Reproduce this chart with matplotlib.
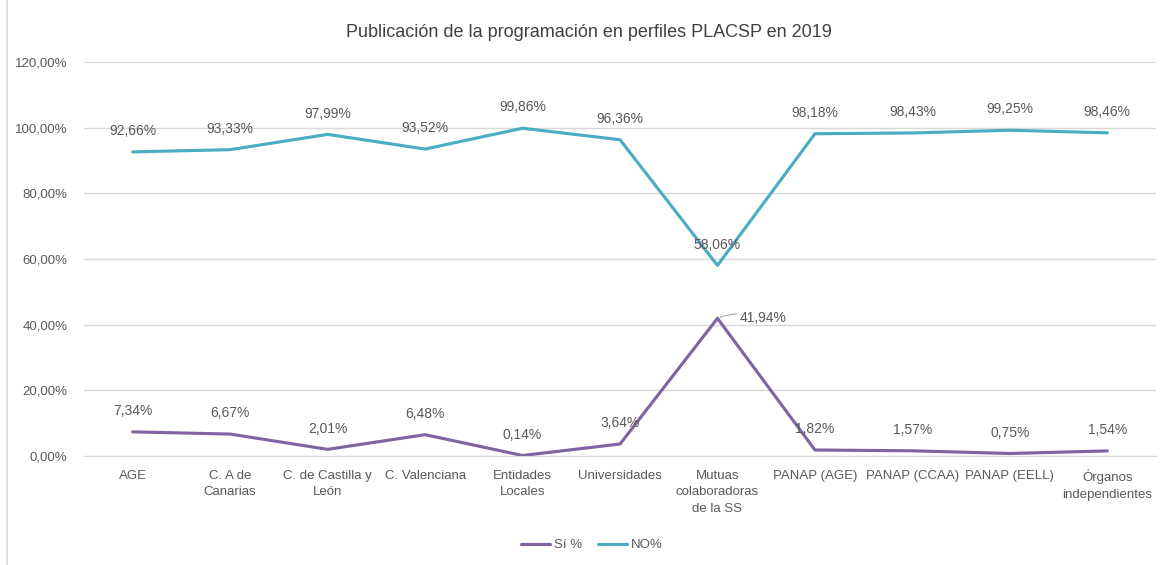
import matplotlib.pyplot as plt
from matplotlib.patches import Rectangle

categorias = ['AGE', 'C. A de\nCanarias', 'C. de Castilla y\nLeón', 'C. Valenciana',
              'Entidades\nLocales', 'Universidades', 'Mutuas\ncolaboradoras\nde la SS',
              'PANAP (AGE)', 'PANAP (CCAA)', 'PANAP (EELL)', 'Órganos\nindependientes']
si = [7.34, 6.67, 2.01, 6.48, 0.14, 3.64, 41.94, 1.82, 1.57, 0.75, 1.54]
no = [92.66, 93.33, 97.99, 93.52, 99.86, 96.36, 58.06, 98.18, 98.43, 99.25, 98.46]

plt.rcParams['font.family'] = ['Liberation Sans', 'DejaVu Sans']
gris = '#595959'

def fmt(v):
	return ('%.2f' % v).replace('.', ',')

fig = plt.figure(figsize=(11.6, 5.65), dpi=100)
ax = fig.add_axes([0.0724, 0.193, 0.9242, 0.697])
x = list(range(len(categorias)))

ax.plot(x, si, color='#8064A2', lw=2.25, label='Sí %', solid_capstyle='round')
ax.plot(x, no, color='#4BACC6', lw=2.25, label='NO%', solid_capstyle='round')

for i, v in enumerate(no):
	ax.annotate(fmt(v) + '%', (i, v), xytext=(0, 15), textcoords='offset points',
	            ha='center', va='center', fontsize=10, color=gris)
for i, v in enumerate(si):
	if i == 6:
		ax.annotate(fmt(v) + '%', (i, v), xytext=(16, 0), textcoords='offset points',
		            ha='left', va='center', fontsize=10, color=gris,
		            arrowprops=dict(arrowstyle='-', color='#A6A6A6', lw=0.8,
		                            connectionstyle='arc3,rad=0.2', shrinkA=0, shrinkB=2))
	else:
		ax.annotate(fmt(v) + '%', (i, v), xytext=(0, 15), textcoords='offset points',
		            ha='center', va='center', fontsize=10, color=gris)

ax.set_xlim(-0.5, len(categorias) - 0.5)
ax.set_ylim(0, 120)
ax.set_yticks(range(0, 121, 20))
ax.set_yticklabels([fmt(t) + '%' for t in range(0, 121, 20)])
ax.set_xticks(x)
ax.set_xticklabels(categorias, va='top', linespacing=1.5)
ax.tick_params(axis='both', length=0, labelsize=9.5, colors=gris)
ax.tick_params(axis='x', pad=10)
ax.tick_params(axis='y', pad=12)
ax.grid(axis='y', color='#D9D9D9', lw=1)
ax.set_axisbelow(True)
for s in ['top', 'right', 'left']:
	ax.spines[s].set_visible(False)
ax.spines['bottom'].set_color('#D9D9D9')

fig.text(0.508, 0.942, 'Publicación de la programación en perfiles PLACSP en 2019',
         ha='center', va='center', fontsize=13, color='#404040')
fig.legend(loc='center', bbox_to_anchor=(0.51, 0.035), ncol=2, frameon=False,
           fontsize=9.5, handlelength=2.2, handletextpad=0.3, columnspacing=1.2,
           labelcolor=gris)
fig.patches.append(Rectangle((0.006, -0.01), 1.1, 1.1, transform=fig.transFigure,
                             fill=False, edgecolor='#D9D9D9', lw=1.2))

fig.savefig('out.png', dpi=100)
